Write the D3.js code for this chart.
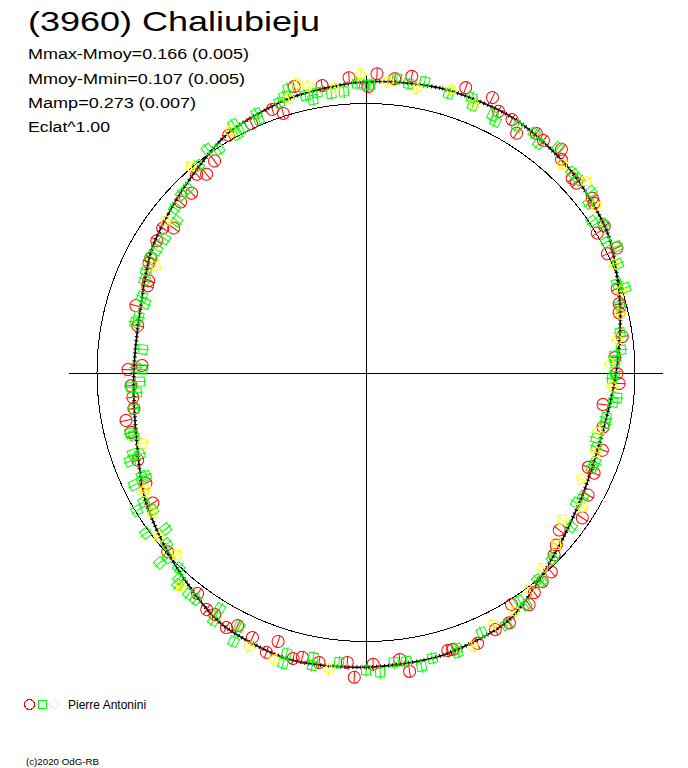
<!DOCTYPE html>
<html><head><meta charset="utf-8">
<script src="https://cdn.jsdelivr.net/npm/d3@7/dist/d3.min.js"></script>
<style>html,body{margin:0;padding:0;background:#fff;}svg{display:block;}</style>
</head><body>
<script>
// ---- data (phase angle in degrees, relative flux) ----
const titleText = "(3960) Chaliubieju";
const statLines = ["Mmax-Mmoy=0.166 (0.005)", "Mmoy-Mmin=0.107 (0.005)", "Mamp=0.273 (0.007)", "Eclat^1.00"];
const observer = "Pierre Antonini";
const copyright = "(c)2020 OdG-RB";

const fitAngles = [0,15,30,45,60,75,90,105,120,135,150,165,180,195,210,225,240,255,270,285,300,315,330,345];
const fitFlux   = [1.081,1.093,1.093,1.070,1.037,0.978,0.930,0.907,0.926,0.978,1.063,1.089,1.096,1.104,1.078,1.007,0.948,0.885,0.863,0.870,0.919,0.963,1.026,1.059];

const redAngles = [2.1,5.6,8.8,19.3,24.7,26.9,30.0,32.2,35.5,37.4,41.2,42.5,46.7,48.0,52.4,53.4,58.4,58.9,63.6,63.8,0.4,345.9,351.3,356.7,342.3,340.4,335.3,329.9,324.4,321.2,319.5,315.8,312.6,306.9,305.4,302.2,298.0,296.8,292.9,291.7,286.2,281.6,271.8,270.7,266.8,263.9,261.2,258.7,255.7,249.0,243.3,238.5,227.9,217.3,213.9,212.0,208.7,206.9,203.2,198.1,199.6,194.3,192.6,189.2,183.7,182.2,178.6,173.3,171.7,163.6,162.6,157.6,153.3,150.2,147.9,144.9,142.6,139.9,137.1,134.1,132.2,129.2,123.9,118.9,74.8,76.7,82.0,86.6,90.2,92.5,97.7,103.0,108.2,113.1,113.8,71.6];
const redFlux   = [1.111,1.097,1.114,1.122,1.125,1.089,1.086,1.051,1.091,1.086,1.103,1.075,1.053,1.052,1.062,1.056,1.040,1.004,1.041,1.000,1.063,1.096,1.079,1.098,1.011,1.038,1.019,1.019,0.967,0.946,0.969,0.930,0.936,0.894,0.927,0.919,0.906,0.904,0.877,0.873,0.891,0.866,0.833,0.885,0.875,0.872,0.873,0.910,0.901,0.909,0.916,0.929,0.994,1.033,1.062,1.061,1.081,1.055,1.072,1.052,1.104,1.097,1.085,1.092,1.080,1.134,1.085,1.074,1.123,1.077,1.079,1.089,1.070,1.072,1.018,1.055,1.030,1.017,1.012,0.974,0.955,0.927,0.969,0.943,0.975,0.967,0.962,0.927,0.933,0.942,0.889,0.904,0.925,0.898,0.927,0.984];

const greenAngles = [359.6,0.8,6.0,8.4,11.4,16.5,21.0,21.8,26.2,27.3,31.6,35.1,37.0,40.5,45.8,47.7,51.2,52.8,56.2,58.0,61.5,63.3,344.7,347.6,349.0,350.1,352.9,355.5,358.2,343.5,342.2,337.1,337.0,331.9,333.2,331.6,324.6,326.6,321.0,315.9,314.0,310.7,308.7,303.6,300.4,298.2,294.8,292.7,288.7,287.3,283.8,282.2,275.9,271.2,270.8,267.7,266.4,265.0,261.0,255.6,254.9,250.7,250.1,249.4,245.2,244.8,244.1,239.8,237.2,238.9,233.9,232.0,229.3,227.3,226.9,223.8,222.2,221.6,218.7,216.9,211.8,211.6,206.5,206.2,195.8,195.9,190.5,190.4,185.3,180.0,177.3,174.5,172.0,169.3,166.9,161.8,161.9,156.0,150.9,146.1,145.4,140.4,140.0,135.0,126.9,121.8,119.8,66.7,70.5,71.9,75.3,81.1,84.9,86.1,87.3,89.8,91.4,95.7,96.9,100.6,102.0,105.9,108.0,111.4,112.9];
const greenFlux   = [1.070,1.070,1.099,1.085,1.103,1.081,1.095,1.069,1.065,1.050,1.074,1.087,1.066,1.100,1.068,1.067,1.074,1.041,1.011,1.040,1.016,1.045,1.094,1.055,1.033,1.057,1.045,1.048,1.075,1.070,1.054,1.045,1.022,1.045,1.017,1.006,1.018,0.994,0.990,0.953,0.953,0.937,0.901,0.898,0.901,0.908,0.901,0.892,0.879,0.861,0.870,0.879,0.834,0.856,0.833,0.841,0.875,0.855,0.874,0.906,0.894,0.918,0.894,0.938,0.918,0.904,0.959,0.956,0.943,0.995,1.013,0.945,0.977,1.043,1.008,1.006,1.036,1.054,1.054,1.055,1.033,1.082,1.055,1.115,1.085,1.125,1.077,1.107,1.082,1.107,1.116,1.082,1.084,1.112,1.091,1.080,1.095,1.058,1.073,1.022,1.049,1.000,1.014,0.979,0.955,0.920,0.930,1.020,0.990,1.014,0.977,0.956,0.952,0.925,0.927,0.926,0.915,0.938,0.925,0.908,0.909,0.890,0.900,0.915,0.912];

const yellowAngles = [359.0,4.3,10.1,16.8,22.0,43.3,49.0,54.1,346.6,348.6,353.8,344.2,330.7,319.6,307.1,296.9,252.4,242.1,241.7,236.6,231.6,226.1,220.9,203.0,197.7,187.1,158.7,153.3,148.2,143.0,137.8,132.2,126.9,121.9,66.4,72.3,77.0,82.5,87.9,93.2,104.4,109.2,116.3];
const yellowFlux   = [1.107,1.085,1.073,1.099,1.075,1.064,1.084,1.056,1.104,1.085,1.062,1.059,1.029,1.006,0.933,0.876,0.870,0.926,0.938,0.949,0.983,0.977,1.052,1.107,1.120,1.112,1.093,1.048,1.046,1.010,0.980,0.955,0.912,0.947,1.007,0.997,0.969,0.941,0.908,0.917,0.891,0.903,0.893];

const axisExtent = 1.105;

// ---- drawing ----
const W = 688, H = 768, cx = 366, cy = 372.5, R = 269;
const svg = d3.select("body").append("svg").attr("width", W).attr("height", H)
  .style("font-family", "'Liberation Sans', Arial, sans-serif");

const rScale = d3.scaleLinear().domain([0, 1]).range([0, R]);
const aScale = d3.scaleLinear().domain([0, 360]).range([0, 2 * Math.PI]);
const pos = (a, f) => { const t = aScale(a), r = rScale(f); return [cx + r * Math.sin(t), cy - r * Math.cos(t)]; };

const plot = svg.append("g").attr("shape-rendering", "crispEdges");
// axes
plot.append("line").attr("x1", cx - rScale(axisExtent)).attr("x2", cx + rScale(axisExtent))
  .attr("y1", Math.round(cy) + 0.5).attr("y2", Math.round(cy) + 0.5).attr("stroke", "#000");
plot.append("line").attr("y1", cy - rScale(axisExtent)).attr("y2", cy + rScale(axisExtent))
  .attr("x1", cx + 0.5).attr("x2", cx + 0.5).attr("stroke", "#000");
// mean circle
plot.append("circle").attr("cx", cx).attr("cy", cy).attr("r", rScale(1))
  .attr("fill", "none").attr("stroke", "#000");

// fitted curve
const fit = fitAngles.map((a, i) => [a, fitFlux[i]]);
const radial = d3.lineRadial().angle(d => aScale(d[0])).radius(d => rScale(d[1])).curve(d3.curveCardinalClosed.tension(0.2));
const cg = svg.append("g").attr("transform", `translate(${cx},${cy})`);
cg.append("path").attr("d", radial(fit)).attr("fill", "none").attr("stroke", "#000").attr("stroke-width", 1.6);
cg.append("path").attr("d", radial(fit)).attr("fill", "none").attr("stroke", "#000").attr("stroke-width", 4).attr("stroke-dasharray", "1 3");

// markers
function drawSeries(angles, flux, color, kind) {
  const g = svg.append("g");
  const pts = angles.map((a, i) => ({ a, f: flux[i] }));
  const m = g.selectAll("g").data(pts).join("g")
    .attr("transform", d => { const p = pos(d.a, d.f); return `translate(${p[0]},${p[1]}) rotate(${d.a})`; });
  if (kind === "circle") {
    m.append("circle").attr("r", 6).attr("fill", "none").attr("stroke", color);
    m.append("line").attr("y1", -6).attr("y2", 6).attr("stroke", color);
  } else if (kind === "square") {
    m.append("rect").attr("x", -4.5).attr("y", -4.5).attr("width", 9).attr("height", 9).attr("fill", "none").attr("stroke", color);
    m.append("line").attr("y1", -6.5).attr("y2", 6.5).attr("stroke", color);
  } else {
    m.append("path").attr("d", "M0,-6L6,0L0,6L-6,0Z").attr("fill", "none").attr("stroke", color);
    m.append("line").attr("y1", -6).attr("y2", 6).attr("stroke", color);
  }
}
drawSeries(redAngles, redFlux, "#ff0000", "circle");
drawSeries(greenAngles, greenFlux, "#00ff00", "square");
drawSeries(yellowAngles, yellowFlux, "#ffff00", "diamond");

// texts
svg.append("text").attr("x", 28).attr("y", 31).attr("font-size", 28)
  .attr("textLength", 292).attr("lengthAdjust", "spacingAndGlyphs").text(titleText);
const statW = [221, 217, 168, 82];
const statY = [59, 84, 108, 132];
statLines.forEach((s, i) => {
  svg.append("text").attr("x", 28).attr("y", statY[i]).attr("font-size", 15.5)
    .attr("textLength", statW[i]).attr("lengthAdjust", "spacingAndGlyphs").text(s);
});

// legend
const lg = svg.append("g").attr("shape-rendering", "crispEdges");
lg.append("circle").attr("cx", 29.5).attr("cy", 704.5).attr("r", 5).attr("fill", "none").attr("stroke", "#ff0000");
lg.append("rect").attr("x", 38.5).attr("y", 700.5).attr("width", 8).attr("height", 8).attr("fill", "none").attr("stroke", "#00ff00");
lg.append("path").attr("d", "M54.5,699.5L59.5,704.5L54.5,709.5L49.5,704.5Z").attr("fill", "none").attr("stroke", "#ffff00");
svg.append("text").attr("x", 68).attr("y", 708.5).attr("font-size", 12).text(observer);
svg.append("text").attr("x", 26).attr("y", 765).attr("font-size", 9)
  .attr("textLength", 73).attr("lengthAdjust", "spacingAndGlyphs").text(copyright);
</script>
</body></html>
